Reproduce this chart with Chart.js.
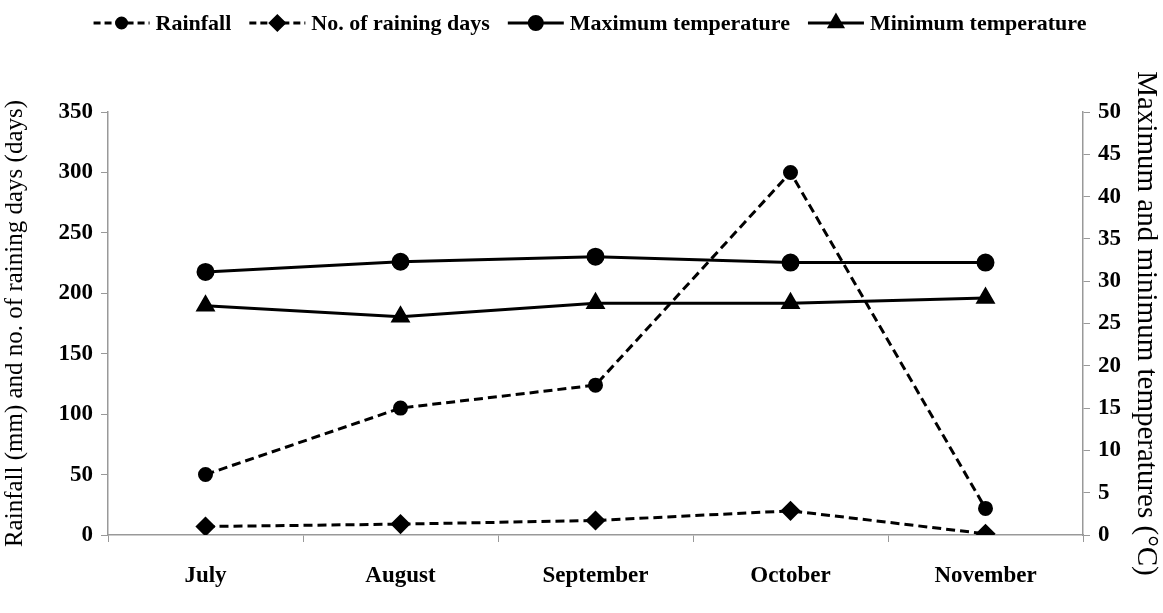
<!DOCTYPE html>
<html>
<head>
<meta charset="utf-8">
<script src="https://cdn.jsdelivr.net/npm/chart.js@4"></script>
<style>
  html, body { margin: 0; padding: 0; background: #fff; }
  #wrap { width: 1163px; height: 613px; }
</style>
</head>
<body>
<div id="wrap"><canvas id="weatherChart" width="1163" height="613"></canvas></div>
<script>
// Monthly weather data
const months = ["July", "August", "September", "October", "November"];
const rainfall = [50, 105, 124, 300, 22];
const rainingDays = [7, 9, 12, 20, 1];
const maxTemp = [31.1, 32.3, 32.9, 32.2, 32.2];
const minTemp = [27.1, 25.8, 27.4, 27.4, 28.0];
const leftTicks = [0, 50, 100, 150, 200, 250, 300, 350];
const rightTicks = [0, 5, 10, 15, 20, 25, 30, 35, 40, 45, 50];

const serif = "'Liberation Serif', 'Times New Roman', serif";
const dash = [9, 5];

// legend drawn at the top, line + marker + text
const legendPlugin = {
  id: "lineLegend",
  afterDraw(chart) {
    const ctx = chart.ctx;
    const items = chart.data.datasets;
    ctx.save();
    ctx.font = "bold 22px " + serif;
    const lineLen = 56;
    const gap = 18;
    let widths = items.map((d) => lineLen + 6 + ctx.measureText(d.label).width);
    let total = widths.reduce((a, b) => a + b, 0) + gap * (items.length - 1);
    let x = 590 - total / 2;
    const y = 23;
    items.forEach((d, i) => {
      ctx.strokeStyle = "#000";
      ctx.lineWidth = 3;
      ctx.setLineDash(d.borderDash.length ? [7, 4] : []);
      ctx.beginPath();
      ctx.moveTo(x, y);
      ctx.lineTo(x + lineLen, y);
      ctx.stroke();
      ctx.setLineDash([]);
      Chart.helpers.drawPoint(ctx, {
        pointStyle: d.pointStyle,
        radius: d.pointRadius - 1,
        borderWidth: 1,
        rotation: 0,
      }, x + lineLen / 2, y);
      ctx.fillStyle = "#000";
      ctx.textBaseline = "middle";
      ctx.fillText(d.label, x + lineLen + 6, y + 1);
      x += widths[i] + gap;
    });
    ctx.restore();
  },
};

function makeSet(label, data, axis, style, radius, dashed) {
  return {
    label: label,
    data: data,
    yAxisID: axis,
    borderColor: "#000",
    backgroundColor: "#000",
    pointBackgroundColor: "#000",
    pointBorderColor: "#000",
    borderWidth: 3,
    borderDash: dashed ? dash : [],
    pointStyle: style,
    pointRadius: radius,
    tension: 0,
  };
}

const tickFont = { family: serif, size: 23, weight: "bold" };

const ctx = document.getElementById("weatherChart").getContext("2d");
new Chart(ctx, {
  type: "line",
  data: {
    labels: months,
    datasets: [
      makeSet("Rainfall", rainfall, "y", "circle", 6, true),
      makeSet("No. of raining days", rainingDays, "y", "rectRot", 8, true),
      makeSet("Maximum temperature", maxTemp, "y1", "circle", 7.5, false),
      makeSet("Minimum temperature", minTemp, "y1", "triangle", 8.5, false),
    ],
  },
  options: {
    responsive: false,
    animation: false,
    layout: { padding: { top: 112, left: 0, right: 0, bottom: 0 } },
    plugins: {
      legend: { display: false },
      tooltip: { enabled: false },
    },
    scales: {
      x: {
        offset: true,
        grid: {
          offset: true,
          drawOnChartArea: false,
          color: "#999",
          tickLength: 7,
        },
        border: { color: "#999", width: 1.5 },
        ticks: { color: "#000", padding: 20, font: tickFont },
        afterFit(scale) { scale.height = 78; },
      },
      y: {
        position: "left",
        min: 0,
        max: 350,
        afterBuildTicks(scale) { scale.ticks = leftTicks.map((v) => ({ value: v })); },
        grid: { drawOnChartArea: false, color: "#999", tickLength: 7 },
        border: { color: "#999", width: 1.5 },
        ticks: { color: "#000", padding: 8, font: tickFont },
        title: {
          display: true,
          text: "Rainfall (mm) and no. of raining days (days)",
          color: "#000",
          font: { family: serif, size: 25 },
          padding: { top: 0, bottom: 2 },
        },
        afterFit(scale) { scale.width = 108; },
      },
      y1: {
        position: "right",
        min: 0,
        max: 50,
        afterBuildTicks(scale) { scale.ticks = rightTicks.map((v) => ({ value: v })); },
        grid: { drawOnChartArea: false, color: "#999", tickLength: 7 },
        border: { color: "#999", width: 1.5 },
        ticks: { color: "#000", padding: 8, font: tickFont },
        title: {
          display: true,
          text: "Maximum and minimum temperatures (°C)",
          color: "#000",
          font: { family: serif, size: 29 },
          padding: { top: 0, bottom: 0 },
        },
        afterFit(scale) { scale.width = 80; },
      },
    },
  },
  plugins: [legendPlugin],
});
</script>
</body>
</html>
